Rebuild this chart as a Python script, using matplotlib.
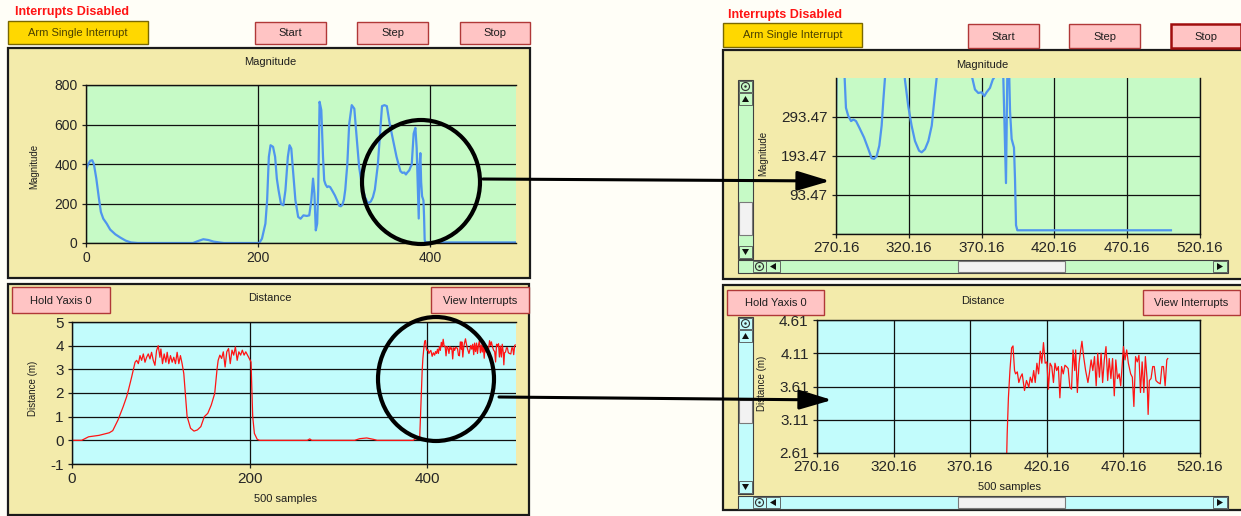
import numpy as np
import matplotlib
matplotlib.use("Agg")
import matplotlib.pyplot as plt
from matplotlib.patches import Rectangle, Ellipse, Polygon

plt.rcParams['font.family'] = ['Liberation Sans', 'DejaVu Sans']
plt.rcParams['axes.unicode_minus'] = False

# magnitude trace (sample, magnitude)
magnitude_pts = [
    (0, 368), (2, 394), (4.8, 416), (7.2, 419), (9.2, 399), (12, 326), (14.8, 233),
    (17.3, 157), (20.1, 123), (24.1, 98), (28.1, 68), (34.1, 44), (40.1, 27),
    (46.1, 12), (52.2, 3), (60.2, 0), (124.4, 0), (130.4, 10), (136.4, 19),
    (142.4, 15), (148.4, 7), (156.5, 2), (160.5, 0), (201.4, 0), (204.6, 22),
    (208.6, 98), (210.6, 216), (212.6, 436), (214.6, 495), (217.5, 487), (219.9, 436),
    (221.9, 326), (223.9, 267), (226.7, 199), (229.5, 191), (231.9, 267), (234.7, 436),
    (236.7, 495), (238.7, 478), (240.7, 368), (243.5, 216), (246.7, 132), (249.5, 123),
    (252.8, 140), (256.8, 137), (259.6, 140), (262.0, 216), (264.0, 326), (265.6, 250),
    (267.2, 64), (268.8, 98), (270.0, 267), (271.6, 715), (273.6, 673), (275.6, 436),
    (277.0, 317), (278.6, 296), (280.5, 283), (282.1, 287), (283.9, 283), (286.2, 266),
    (289.4, 241), (292.4, 211), (294.6, 188), (296.3, 186), (298.1, 193), (299.9, 220),
    (301.5, 271), (302.7, 338), (303.8, 394), (306, 600), (309, 698), (312, 680),
    (315, 520), (317.5, 389), (319.8, 321), (322.1, 271), (324.4, 232), (327.2, 207),
    (329.0, 203), (331.3, 211), (333.6, 232), (335.9, 271), (338.2, 355), (339.3, 394),
    (344.2, 693), (347, 698), (349.8, 693), (353.1, 605), (357.1, 520), (361.1, 436),
    (365.6, 364), (367.9, 355), (370.2, 357), (372.0, 347), (373.6, 357), (375.9, 368),
    (377.8, 389), (378.7, 394), (381, 554), (383, 583), (384.5, 480), (386.9, 124),
    (387.8, 394), (388.8, 455), (389.7, 308), (390.8, 237), (392.4, 215), (393.1, 135),
    (393.8, 16), (394.7, 3), (500.2, 3),
]

# distance trace (sample, metres) - first pass
distance_run1 = [
    (0, 0), (10.9, 0), (18.7, 0.15), (30.4, 0.21), (42.0, 0.32), (45.9, 0.41),
    (51.8, 0.86), (57.6, 1.42), (61.5, 1.84), (63.4, 2.1), (67.2, 2.68), (69.8, 3.10),
    (71.0, 3.30), (72.8, 3.38), (74.7, 3.24), (76.6, 3.58), (78.4, 3.38), (80.3, 3.65),
    (82.2, 3.30), (84.0, 3.51), (85.9, 3.65), (87.8, 3.44), (89.6, 3.72), (91.5, 3.38),
    (93.4, 3.17), (95.2, 3.79), (97.1, 4.0), (99.0, 3.51), (100.1, 3.86), (101.9, 3.24),
    (103.8, 3.65), (105.7, 3.30), (107.2, 3.72), (109.0, 3.24), (110.9, 3.58),
    (112.8, 3.30), (114.6, 3.51), (116.5, 3.24), (118.4, 3.72), (120.3, 3.24),
    (122.1, 3.58), (124.0, 3.24), (125.9, 2.82), (127.4, 2.1), (129.6, 1.01),
    (133.5, 0.51), (137.4, 0.39), (141.2, 0.44), (145.1, 0.58), (149.0, 1.0),
    (152.9, 1.14), (156.8, 1.49), (160.7, 1.98), (163.4, 3.03),
]
# second pass
distance_run2 = [
    (164.6, 3.38), (166.5, 3.60), (168.5, 3.46), (170.4, 3.74), (172.4, 3.10),
    (174.3, 3.74), (176.3, 3.88), (178.2, 3.24), (180.2, 3.81), (182.1, 3.60),
    (184.0, 3.95), (186.0, 3.38), (187.9, 3.74), (189.9, 3.60), (191.8, 3.81),
    (193.8, 3.60), (195.7, 3.74), (197.7, 3.60), (199.6, 3.46), (201.6, 3.31),
    (203.5, 1.0), (205.4, 0.29), (208.6, 0.04), (211.3, 0), (265.0, 0), (267.7, 0.06),
    (270.0, 0), (318.3, 0), (324.0, 0.07), (331.9, 0.1), (339.7, 0.04), (343.6, 0),
    (384.4, 0), (386.4, 0.07), (389.0, 0.04), (391.5, 0.05),
]
# third pass
distance_run3 = [
    (394.3, 2.9), (395.1, 3.44), (396.1, 3.85), (397.2, 4.19), (398.1, 4.22),
    (399.1, 3.85), (399.8, 3.80), (400.9, 3.83), (401.9, 3.67), (403.0, 3.75),
    (404.1, 3.80), (405.6, 3.55), (406.9, 3.70), (408.4, 3.60), (409.4, 3.75),
    (410.5, 3.67), (411.6, 3.85), (412.6, 3.67), (413.7, 3.96), (414.8, 3.80),
    (415.9, 4.14), (416.9, 3.96), (418.0, 4.27), (419.1, 3.96), (420.2, 3.98),
    (421.2, 3.57), (422.3, 3.96), (423.4, 3.91), (424.5, 3.67), (425.5, 3.96),
    (426.6, 3.85), (427.7, 3.91), (428.7, 3.44), (429.8, 3.91), (430.9, 3.80),
    (432.0, 3.93), (433.0, 3.91), (434.1, 3.88), (435.2, 3.60), (436.3, 3.57),
    (437.3, 4.16), (438.4, 3.85), (439.0, 4.16), (440.1, 3.52), (441.2, 3.96),
    (442.0, 4.11), (443.1, 4.29), (444.2, 4.06), (445.5, 3.85), (447.0, 3.67),
    (448.1, 3.83), (449.1, 4.01), (450.2, 3.85), (451.3, 4.06), (452.4, 3.62),
    (453.4, 4.11), (454.5, 3.75), (455.6, 4.11), (456.6, 3.67), (457.7, 4.01),
    (458.8, 4.21), (459.9, 3.70), (460.9, 4.03), (462.0, 3.73), (463.1, 4.03),
    (464.2, 3.47), (465.2, 4.01), (466.3, 3.73), (467.4, 3.80), (468.4, 3.62),
    (469.5, 3.98), (470.2, 4.21), (471.2, 4.01), (472.3, 4.16), (473.4, 3.96),
    (474.9, 3.80), (476.0, 3.75), (477.0, 3.31), (478.1, 4.06), (479.2, 3.98),
    (480.3, 4.08), (481.3, 3.52), (482.4, 3.98), (483.5, 3.52), (484.5, 4.06),
    (485.6, 3.73), (486.3, 3.19), (487.1, 3.70), (488.2, 3.73), (489.3, 3.91),
    (490.3, 3.91), (491.4, 3.70), (492.7, 3.67), (494.2, 3.65), (495.3, 3.91),
    (496.3, 3.91), (497.4, 3.62), (498.5, 4.01), (499.1, 4.03),
]

zoom_xticks = [270.16, 320.16, 370.16, 420.16, 470.16, 520.16]
zoom_mag_ticks = [-6.53, 93.47, 193.47, 293.47]
zoom_dist_ticks = [2.61, 3.11, 3.61, 4.11, 4.61]

mag_x, mag_y = np.array(magnitude_pts).T
dist_x, dist_y = np.array(distance_run1 + distance_run2 + distance_run3).T

PAGE = '#FFFEF7'
KHAKI = '#F3EBAB'
GREEN = '#C6FAC6'
CYAN = '#C2FCFC'
PINK = '#FFC4C4'
PINK_EDGE = '#B03838'
GOLD = '#FFD800'
BLUE = '#4F95EE'
RED = '#FF1414'

W, H = 1241, 516


def fbox(x0, y0, x1, y1):
    return [x0 / W, 1 - y1 / H, (x1 - x0) / W, (y1 - y0) / H]


fig = plt.figure(figsize=(W / 100, H / 100), dpi=100)
fig.patch.set_facecolor(PAGE)

bg = fig.add_axes([0, 0, 1, 1])
bg.set_xlim(0, W)
bg.set_ylim(H, 0)
bg.axis('off')


def box(x0, y0, x1, y1, fc, ec, lw=1.0, z=1):
    bg.add_patch(Rectangle((x0, y0), x1 - x0, y1 - y0, facecolor=fc,
                           edgecolor=ec, linewidth=lw, zorder=z))


def button(x0, y0, x1, y1, label, fc=PINK, ec=PINK_EDGE, lw=1.0, color='#1E1E1E'):
    box(x0, y0, x1, y1, fc, ec, lw, 3)
    bg.text((x0 + x1) / 2, (y0 + y1) / 2 + 0.5, label, ha='center', va='center',
            fontsize=8, color=color, zorder=4)


def tri(pts, z=4):
    bg.add_patch(Polygon(pts, closed=True, facecolor='#101010', edgecolor='none', zorder=z))


def zoom_icon(cx, cy):
    bg.add_patch(Ellipse((cx, cy), 8, 8, facecolor='none', edgecolor='#303030', lw=0.8, zorder=5))
    bg.add_patch(Ellipse((cx, cy), 2.5, 2.5, facecolor='#303030', edgecolor='none', zorder=5))


def scrollbars(top, v_end, h_top, track, vthumb):
    x0, x1 = 738, 753
    box(x0, top, x1, v_end, track, '#404040', 0.8, 2)
    box(x0 + 1, top + 1, x1 - 1, top + 12, track, '#505050', 0.6, 3)
    zoom_icon((x0 + x1) / 2, top + 6.5)
    box(x0 + 1, top + 13, x1 - 1, top + 25, track, '#505050', 0.6, 3)
    tri([(742, top + 22), (749, top + 22), (745.5, top + 16)])
    box(x0 + 1, v_end - 13, x1 - 1, v_end - 1, track, '#505050', 0.6, 3)
    tri([(742, v_end - 10), (749, v_end - 10), (745.5, v_end - 4)])
    box(x0 + 1, vthumb[0], x1 - 1, vthumb[1], '#F2F2F2', '#7A7A7A', 0.8, 3)
    # horizontal bar
    box(738, h_top, 1228, h_top + 13, track, '#404040', 0.8, 2)
    box(753, h_top + 1, 766, h_top + 12, track, '#505050', 0.6, 3)
    zoom_icon(759.5, h_top + 6.5)
    box(766, h_top + 1, 780, h_top + 12, track, '#505050', 0.6, 3)
    tri([(776, h_top + 3), (776, h_top + 10), (770, h_top + 6.5)])
    box(958, h_top + 1, 1065, h_top + 12, '#F2F2F2', '#7A7A7A', 0.8, 3)
    box(1213, h_top + 1, 1227, h_top + 12, track, '#505050', 0.6, 3)
    tri([(1217, h_top + 3), (1217, h_top + 10), (1223, h_top + 6.5)])


# panel frames
box(8, 48, 530, 278, KHAKI, '#1A1A1A', 1.6)
box(8, 284, 529, 515, KHAKI, '#1A1A1A', 1.6)
box(723, 50, 1260, 279, KHAKI, '#1A1A1A', 1.6)
box(723, 285, 1260, 510, KHAKI, '#1A1A1A', 1.6)

# header text and buttons
bg.text(15, 12, 'Interrupts Disabled', fontsize=9, fontweight='bold', color=RED,
        ha='left', va='center')
bg.text(728, 15, 'Interrupts Disabled', fontsize=9, fontweight='bold', color=RED,
        ha='left', va='center')

button(8, 21, 148, 44, 'Arm Single Interrupt', GOLD, '#7A6800', 1.0, '#4A4000')
button(255, 22, 326, 44, 'Start')
button(357, 22, 428, 44, 'Step')
button(460, 22, 530, 44, 'Stop')
button(723, 23, 862, 47, 'Arm Single Interrupt', GOLD, '#7A6800', 1.0, '#4A4000')
button(968, 24, 1039, 48, 'Start')
button(1069, 24, 1140, 48, 'Step')
button(1171, 24, 1241, 48, 'Stop', ec='#A00E0E', lw=1.8)

button(12, 287, 110, 313, 'Hold Yaxis 0')
button(431, 287, 529, 313, 'View Interrupts')
button(727, 290, 824, 315, 'Hold Yaxis 0')
button(1143, 290, 1240, 315, 'View Interrupts')

# panel captions
for x, y, s in [(270, 62, 'Magnitude'), (982, 65, 'Magnitude'),
                (270, 298, 'Distance'), (983, 301, 'Distance'),
                (285, 499, '500 samples'), (1009, 487, '500 samples')]:
    bg.text(x, y, s, fontsize=8, color='#1E1E1E', ha='center', va='center')
for x, y, s in [(34, 166, 'Magnitude'), (763, 153, 'Magnitude'),
                (33, 388, 'Distance (m)'), (762, 383, 'Distance (m)')]:
    bg.text(x, y, s, fontsize=7, color='#1E1E1E', ha='center', va='center', rotation=90)

scrollbars(80, 259, 260, GREEN, (202, 235))
scrollbars(317, 494, 496, CYAN, (400, 423))


def style(ax, fs, xpad, ypad):
    ax.tick_params(direction='out', length=3, width=0.9, color='#202020',
                   labelsize=fs, labelcolor='#262626')
    ax.tick_params(axis='x', pad=xpad)
    ax.tick_params(axis='y', pad=ypad)
    for s in ax.spines.values():
        s.set_color('#101010')
        s.set_linewidth(1.0)
    ax.grid(True, color='#101010', linewidth=0.9)


# full magnitude view
ax1 = fig.add_axes(fbox(86, 85, 516, 243), zorder=2)
ax1.set_facecolor(GREEN)
ax1.plot(mag_x, mag_y, color=BLUE, lw=1.6)
ax1.set_xlim(0, 500)
ax1.set_ylim(0, 800)
ax1.set_xticks([0, 200, 400])
ax1.set_yticks([0, 200, 400, 600, 800])
ax1.spines['right'].set_visible(False)
style(ax1, 10, 3, 3)

# full distance view
ax2 = fig.add_axes(fbox(72, 322, 516, 464), zorder=2)
ax2.set_facecolor(CYAN)
ax2.plot(dist_x, dist_y, color=RED, lw=0.9)
ax2.set_xlim(0, 500)
ax2.set_ylim(-1, 5)
ax2.set_xticks([0, 200, 400])
ax2.set_yticks(range(-1, 6))
ax2.spines['right'].set_visible(False)
style(ax2, 11, 2.5, 3)

# zoomed magnitude view
ax3 = fig.add_axes(fbox(836, 78, 1200, 234), zorder=2)
ax3.set_facecolor(GREEN)
ax3.plot(mag_x, mag_y, color=BLUE, lw=1.6)
ax3.set_xlim(zoom_xticks[0], zoom_xticks[-1])
ax3.set_ylim(zoom_mag_ticks[0], zoom_mag_ticks[0] + 400)
ax3.set_xticks(zoom_xticks)
ax3.set_xticklabels([f'{v:.2f}' for v in zoom_xticks])
ax3.set_yticks(zoom_mag_ticks)
ax3.set_yticklabels([''] + [f'{v:.2f}' for v in zoom_mag_ticks[1:]])
ax3.spines['top'].set_visible(False)
style(ax3, 11, 2, 3)

# zoomed distance view
ax4 = fig.add_axes(fbox(817, 320, 1200, 453), zorder=2)
ax4.set_facecolor(CYAN)
ax4.plot(dist_x, dist_y, color=RED, lw=0.9)
ax4.set_xlim(zoom_xticks[0], zoom_xticks[-1])
ax4.set_ylim(zoom_dist_ticks[0], zoom_dist_ticks[-1])
ax4.set_xticks(zoom_xticks)
ax4.set_xticklabels([f'{v:.2f}' for v in zoom_xticks])
ax4.set_yticks(zoom_dist_ticks)
ax4.set_yticklabels([f'{v:.2f}' for v in zoom_dist_ticks])
style(ax4, 11, 2, 3)

# circles and arrows on top
ov = fig.add_axes([0, 0, 1, 1], zorder=10)
ov.set_xlim(0, W)
ov.set_ylim(H, 0)
ov.axis('off')
ov.patch.set_alpha(0)
ov.add_patch(Ellipse((421, 182), 118, 124, fill=False, lw=3, ec='black'))
ov.add_patch(Ellipse((436, 379), 116, 124, fill=False, lw=3, ec='black'))
arrow = dict(arrowstyle='-|>,head_length=1.0,head_width=0.3', lw=2.2, color='black',
             mutation_scale=20, shrinkA=0, shrinkB=0)
ov.annotate('', xy=(830, 181), xytext=(483, 179), arrowprops=arrow)
ov.annotate('', xy=(832, 400), xytext=(499, 397), arrowprops=arrow)

fig.savefig('out.png', dpi=100, facecolor=PAGE)
